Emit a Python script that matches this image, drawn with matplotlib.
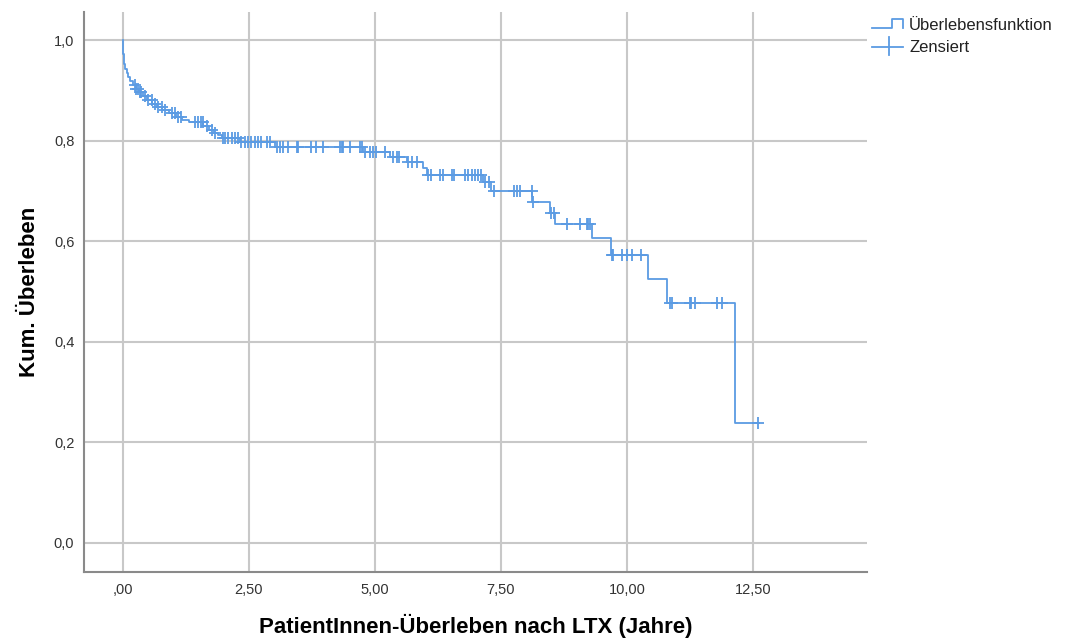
import numpy as np
import matplotlib.pyplot as plt
from matplotlib.lines import Line2D

plt.rcParams['font.family'] = ['Liberation Sans', 'DejaVu Sans']

# Kaplan-Meier: Zeitpunkte der Ereignisse und Überleben danach
km_times = [0.0, 0.003, 0.008, 0.015, 0.03, 0.05, 0.075, 0.105, 0.15, 0.20,
            0.26, 0.32, 0.40, 0.48, 0.58, 0.68, 0.78, 0.92, 1.05, 1.18,
            1.32, 1.60, 1.70, 1.80, 1.88, 1.96, 2.32, 3.02, 4.76, 5.30,
            5.64, 5.96, 6.03, 7.15, 7.31, 8.12, 8.48, 8.58, 9.30, 9.68,
            10.42, 10.80, 12.14]
km_surv = [1.0, 0.985, 0.972, 0.962, 0.952, 0.943, 0.935, 0.927, 0.918, 0.910,
           0.903, 0.897, 0.889, 0.881, 0.873, 0.867, 0.862, 0.855, 0.848, 0.842,
           0.838, 0.830, 0.821, 0.815, 0.811, 0.805, 0.798, 0.788, 0.778, 0.768,
           0.758, 0.745, 0.732, 0.718, 0.700, 0.679, 0.656, 0.634, 0.606, 0.573,
           0.525, 0.478, 0.239]
t_end = 12.62

# zensierte Fälle
cens_times = [0.25, 0.27, 0.30, 0.34, 0.37, 0.44, 0.50, 0.57, 0.63, 0.70,
              0.77, 0.83, 0.98, 1.03, 1.10, 1.16, 1.43, 1.50, 1.56, 1.59,
              1.67, 1.77, 1.83, 1.99, 2.02, 2.09, 2.16, 2.22, 2.29, 2.35,
              2.42, 2.49, 2.55, 2.62, 2.69, 2.75, 2.85, 2.92, 3.05, 3.12,
              3.18, 3.28, 3.45, 3.48, 3.74, 3.84, 3.97, 4.31, 4.34, 4.37,
              4.50, 4.70, 4.74, 4.80, 4.90, 4.97, 5.03, 5.20, 5.36, 5.43,
              5.47, 5.66, 5.73, 5.83, 6.06, 6.12, 6.29, 6.36, 6.52, 6.57,
              6.79, 6.85, 6.92, 6.98, 7.05, 7.10, 7.18, 7.27, 7.36, 7.75,
              7.81, 7.88, 8.11, 8.14, 8.50, 8.55, 8.80, 9.07, 9.20, 9.23,
              9.27, 9.70, 9.73, 9.90, 9.99, 10.09, 10.27, 10.85, 10.90, 11.24,
              11.27, 11.35, 11.78, 11.88, 12.60]

x_ticks = [0, 2.5, 5, 7.5, 10, 12.5]
x_labels = [',00', '2,50', '5,00', '7,50', '10,00', '12,50']
y_ticks = [0, 0.2, 0.4, 0.6, 0.8, 1.0]
y_labels = ['0,0', '0,2', '0,4', '0,6', '0,8', '1,0']

blue = '#5b9be3'

fig = plt.figure(figsize=(10.65, 6.43), dpi=100)
ax = fig.add_axes([84/1065, 71/643, 783/1065, 560/643])

st = np.array(km_times + [t_end])
sv = np.array(km_surv + [km_surv[-1]])
ax.step(st, sv, where='post', color=blue, lw=1.3, zorder=3)

ct = np.array(cens_times)
idx = np.searchsorted(np.array(km_times), ct, side='right') - 1
cs = np.array(km_surv)[idx]
ax.plot(ct, cs, ls='none', marker='+', ms=8, mew=1.3, color=blue, zorder=4)

ax.set_xlim(-0.77, 14.76)
ax.set_ylim(-0.058, 1.056)
ax.set_xticks(x_ticks)
ax.set_xticklabels(x_labels)
ax.set_yticks(y_ticks)
ax.set_yticklabels(y_labels)
ax.tick_params(length=0, labelsize=10.5, colors='#333333')
ax.tick_params(axis='y', pad=7)
ax.tick_params(axis='x', pad=8)
ax.grid(True, color='#c8c8c8', lw=1.5)
ax.set_axisbelow(True)
for s in ['top', 'right']:
    ax.spines[s].set_visible(False)
for s in ['left', 'bottom']:
    ax.spines[s].set_color('#8a8a8a')
    ax.spines[s].set_linewidth(1.5)

ax.set_xlabel('PatientInnen-Überleben nach LTX (Jahre)', fontsize=16,
              fontweight='bold', labelpad=12)
ax.set_ylabel('Kum. Überleben', fontsize=16, fontweight='bold', labelpad=10)

# Legende rechts oben, von Hand gezeichnet
def fx(px):
    return px / 1065

def fy(py):
    return 1 - py / 643

fig.add_artist(Line2D([fx(872), fx(892), fx(892), fx(903), fx(903)],
                      [fy(28), fy(28), fy(19), fy(19), fy(28)],
                      color=blue, lw=1.3))
fig.text(fx(909), fy(26), 'Überlebensfunktion', fontsize=12, va='center',
         color='#222222')
fig.add_artist(Line2D([fx(872), fx(903)], [fy(47), fy(47)], color=blue, lw=1.3))
fig.add_artist(Line2D([fx(889), fx(889)], [fy(37), fy(55)], color=blue, lw=1.3))
fig.text(fx(909), fy(47), 'Zensiert', fontsize=12, va='center', color='#222222')

fig.savefig('out.png', dpi=100)
